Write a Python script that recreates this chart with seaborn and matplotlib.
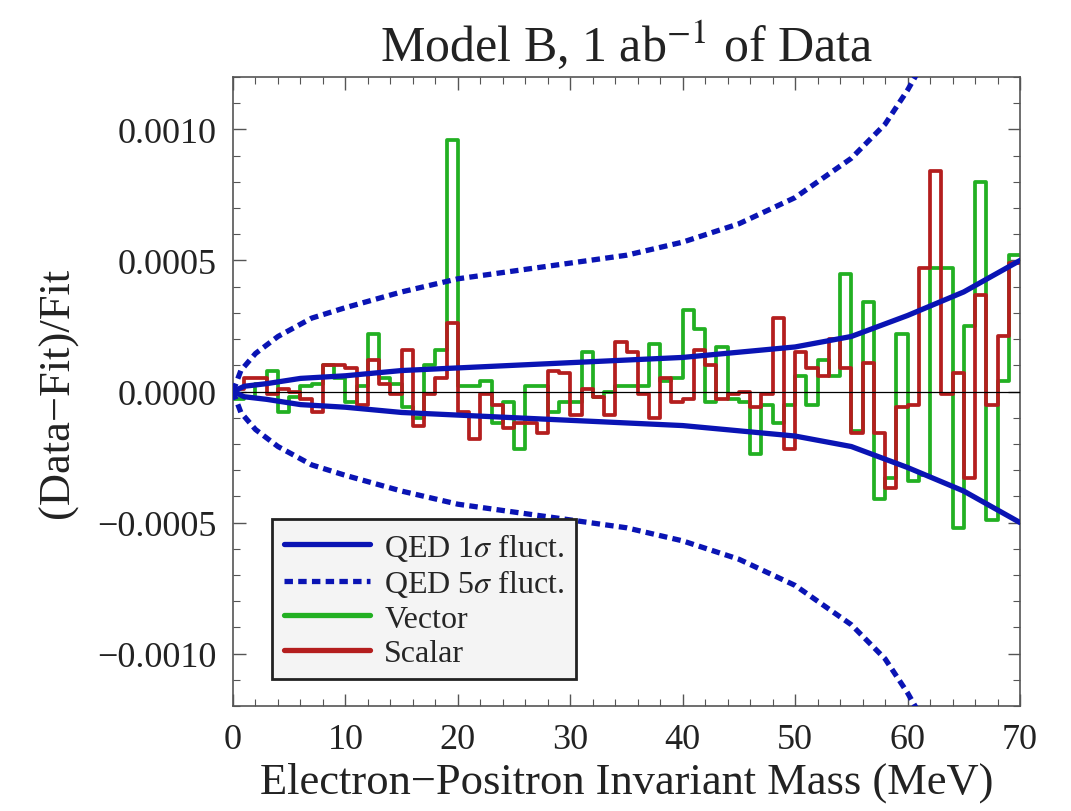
import numpy as np
import pandas as pd
import matplotlib
matplotlib.use("Agg")
import matplotlib.pyplot as plt
from matplotlib.ticker import MultipleLocator, FuncFormatter
from matplotlib.lines import Line2D
import seaborn as sns

# ---- data ----
bin_edges = list(range(0, 71))
vector_vals = [-0.00003, -0.00002, 0.00003, 0.00008, -0.00008, -0.00002, 0.00002, 0.00003, 0.00010, 0.00005,
               -0.00004, 0.00002, 0.00022, 0.00005, 0.00003, -0.00006, -0.00010, 0.00010, 0.00016, 0.00096,
               0.00002, 0.00002, 0.00004, -0.00012, -0.00004, -0.00022, 0.00002, 0.00002, -0.00008, -0.00004,
               -0.00004, 0.00015, -0.00002, 0.00000, 0.00002, 0.00002, 0.00002, 0.00018, 0.00004, 0.00005,
               0.00031, 0.00024, -0.00004, 0.00017, -0.00003, -0.00004, -0.00024, -0.00005, -0.00012, -0.00005,
               0.00006, -0.00005, 0.00012, 0.00006, 0.00045, -0.00015, 0.00034, -0.00041, -0.00033, 0.00022,
               -0.00034, -0.00032, 0.00047, 0.00047, -0.00052, 0.00025, 0.00080, -0.00049, 0.00004, 0.00052]
scalar_vals = [0.00001, 0.00005, 0.00005, -0.00001, 0.00001, 0.00000, -0.00003, -0.00008, 0.00010, 0.00010,
               0.00009, -0.00005, 0.00012, 0.00003, -0.00001, 0.00016, -0.00013, -0.00001, 0.00005, 0.00026,
               -0.00008, -0.00018, -0.00001, -0.00005, -0.00014, -0.00012, -0.00012, -0.00016, 0.00008, 0.00007,
               -0.00009, 0.00001, -0.00002, -0.00009, 0.00019, 0.00015, -0.00001, -0.00010, 0.00005, -0.00004,
               -0.00003, 0.00016, 0.00010, -0.00003, -0.00001, 0.00000, -0.00006, -0.00001, 0.00028, -0.00022,
               0.00015, 0.00009, 0.00006, 0.00020, 0.00009, -0.00016, 0.00011, -0.00016, -0.00037, -0.00006,
               -0.00005, 0.00047, 0.00084, -0.00001, 0.00007, -0.00033, 0.00037, -0.00005, 0.00021, 0.00049]

sigma1_x = [0, 1, 3, 6, 10, 15, 20, 25, 30, 35, 40, 45, 50, 55, 60, 65, 70]
sigma1_y = [0.0, 0.00002, 0.00003, 0.00005, 0.00006, 0.00008, 0.00009, 0.00010, 0.00011, 0.00012,
            0.00013, 0.00015, 0.00017, 0.00021, 0.00029, 0.00038, 0.00050]
sigma5_x = [0, 0.7, 2, 4, 7, 10, 15, 20, 25, 30, 35, 40, 45, 50, 55, 58, 60, 62]
sigma5_y = [0.0, 0.00008, 0.000145, 0.00021, 0.00028, 0.00032, 0.00038, 0.00043, 0.00046, 0.00049,
            0.00052, 0.00057, 0.00064, 0.00074, 0.00089, 0.00102, 0.00115, 0.0013]

title = "Model B, 1 ab$^{-1}$ of Data"
xlabel = "Electron\u2212Positron Invariant Mass (MeV)"
ylabel = "(Data\u2212Fit)/Fit"
legend_labels = ["QED 1$\\sigma$ fluct.", "QED 5$\\sigma$ fluct.", "Vector", "Scalar"]

BLUE = "#0a14b4"
GREEN = "#22b022"
RED = "#b41e1e"
DASH = (0, (1.6, 1.0))

sns.set_theme(style="ticks")
plt.rcParams["font.family"] = ["Liberation Serif", "DejaVu Serif"]
plt.rcParams["mathtext.fontset"] = "stix"

fig = plt.figure(figsize=(10.71, 8.12), dpi=100)
ax = fig.add_axes([233 / 1071, 1 - 707 / 812, (1020 - 233) / 1071, (707 - 78) / 812])

centers = [e + 0.5 for e in bin_edges[:-1]]
sns.histplot(x=centers, weights=vector_vals, bins=bin_edges, element="step", fill=False,
             color=GREEN, linewidth=2.7, ax=ax, zorder=2)
sns.histplot(x=centers, weights=scalar_vals, bins=bin_edges, element="step", fill=False,
             color=RED, linewidth=2.7, ax=ax, zorder=3)

ax.axhline(0, color="black", lw=0.9, zorder=4)

s1x = np.array(sigma1_x); s1y = np.array(sigma1_y)
s5x = np.array(sigma5_x); s5y = np.array(sigma5_y)
sns.lineplot(x=s1x, y=s1y, color=BLUE, lw=3.8, ax=ax, zorder=5, sort=False)
sns.lineplot(x=s1x, y=-s1y, color=BLUE, lw=3.8, ax=ax, zorder=5, sort=False)
sns.lineplot(x=s5x, y=s5y, color=BLUE, lw=3.8, ax=ax, zorder=5, sort=False, linestyle=DASH)
sns.lineplot(x=s5x, y=-s5y, color=BLUE, lw=3.8, ax=ax, zorder=5, sort=False, linestyle=DASH)

ax.set_xlim(0, 70)
ax.set_ylim(-0.0012, 0.0012)
ax.xaxis.set_major_locator(MultipleLocator(10))
ax.xaxis.set_minor_locator(MultipleLocator(2))
ax.yaxis.set_major_locator(MultipleLocator(0.0005))
ax.yaxis.set_minor_locator(MultipleLocator(0.0001))
ax.yaxis.set_major_formatter(FuncFormatter(
    lambda v, p: f"{v:.4f}".replace("-", "\u2212") if abs(v) > 1e-12 else "0.0000"))
ax.tick_params(which="both", direction="in", top=True, right=True, colors="#555555",
               labelcolor="#222222", labelsize=26)
ax.tick_params(axis="y", which="major", pad=12)
ax.tick_params(axis="x", which="major", pad=12)
ax.tick_params(which="major", length=9, width=1.0)
ax.tick_params(which="minor", length=5, width=0.8)
for s in ax.spines.values():
    s.set_color("#555555")
    s.set_linewidth(1.2)

ax.set_title(title, fontsize=36, color="#222222", pad=12)
ax.set_xlabel(xlabel, fontsize=32, color="#222222", labelpad=4)
ax.set_ylabel(ylabel, fontsize=32, color="#222222", labelpad=14)

handles = [
    Line2D([], [], color=BLUE, lw=3.8),
    Line2D([], [], color=BLUE, lw=3.8, linestyle=DASH),
    Line2D([], [], color=GREEN, lw=3.8),
    Line2D([], [], color=RED, lw=3.8),
]
leg = ax.legend(handles, legend_labels, loc="lower left", bbox_to_anchor=(0.05, 0.043),
                fontsize=23, frameon=True, fancybox=False, handlelength=2.7,
                labelspacing=0.15, borderpad=0.35, handletextpad=0.45, borderaxespad=0)
leg.get_frame().set_facecolor("#f4f4f4")
leg.get_frame().set_edgecolor("#222222")
leg.get_frame().set_linewidth(2.0)
leg.get_frame().set_alpha(1.0)
leg.set_zorder(10)

fig.savefig("out.png", dpi=100)
